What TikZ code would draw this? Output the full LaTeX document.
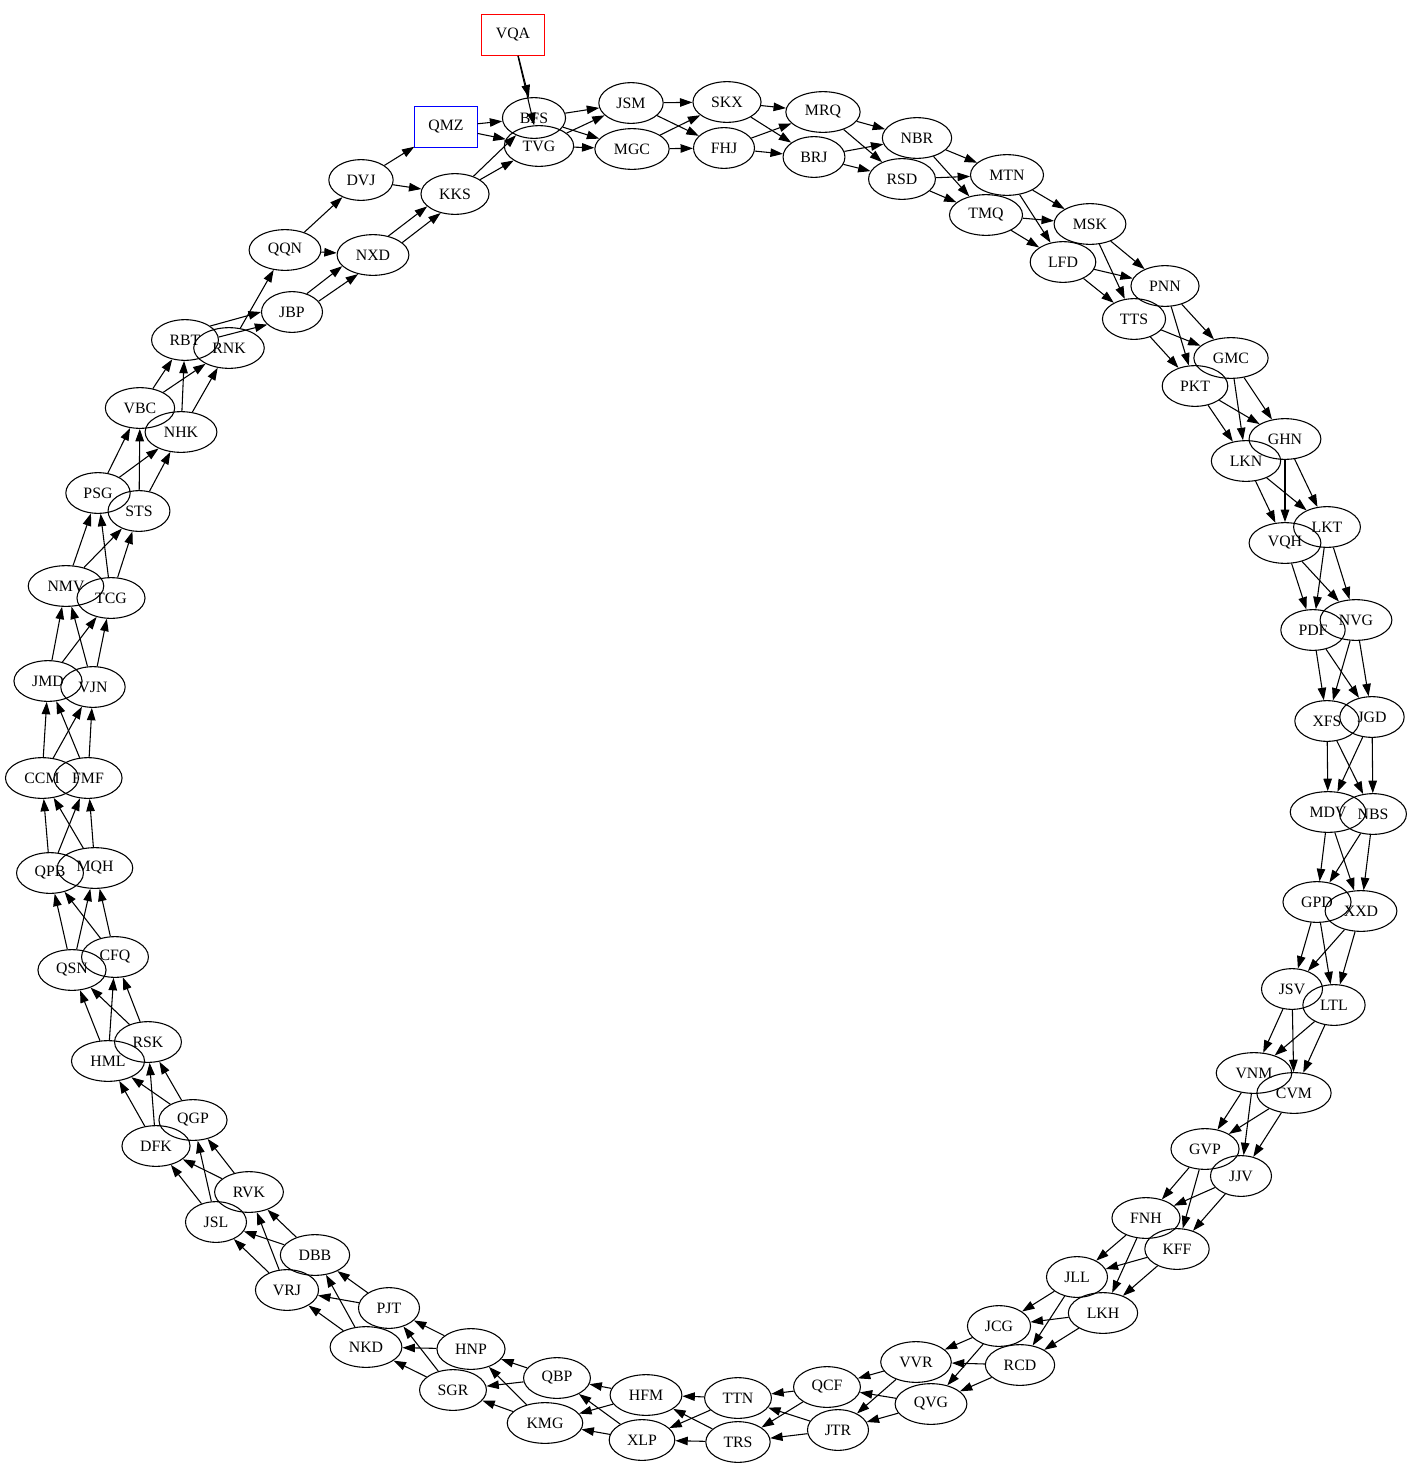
\documentclass[tikz,border=0pt]{standalone}
\usepackage{fontspec}
\setmainfont{Liberation Serif}
\usetikzlibrary{shapes.geometric,arrows.meta}

\begin{document}
\begin{tikzpicture}[x=0.885pt, y=-0.885pt,
    ringnode/.style={ellipse, draw, line width=0.95pt, inner xsep=7.3pt, inner ysep=3pt,
        minimum width=54pt, minimum height=36pt, font=\fontsize{14}{16}\selectfont},
    tagbox/.style={rectangle, draw, line width=0.95pt, minimum width=55pt, minimum height=36pt,
        font=\fontsize{14}{16}\selectfont},
    arr/.style={-{Triangle[length=11pt, width=7.5pt]}, line width=0.95pt}]
        \useasboundingbox (0,0) rectangle (1413,1467);

        % Entry boxes
        \node[tagbox, red] (vqa) at (513,35) {\color{black}VQA};
        \node[tagbox, blue] (qmz) at (446,127) {\color{black}QMZ};

        % Top arc
        \node[ringnode] (bfs) at (534,118) {BFS};
        \node[ringnode] (tvg) at (539,146) {TVG};
        \node[ringnode] (jsm) at (631,103) {JSM};
        \node[ringnode] (mgc) at (632,149) {MGC};
        \node[ringnode] (skx) at (727,102) {SKX};
        \node[ringnode] (fhj) at (724,148) {FHJ};
        \node[ringnode] (mrq) at (823,112) {MRQ};
        \node[ringnode] (brj) at (814,157) {BRJ};
        \node[ringnode] (nbr) at (917,138) {NBR};
        \node[ringnode] (rsd) at (902,179) {RSD};
        \node[ringnode] (mtn) at (1007,175) {MTN};
        \node[ringnode] (tmq) at (986,215) {TMQ};
        \node[ringnode] (msk) at (1090,224) {MSK};
        \node[ringnode] (lfd) at (1063,262) {LFD};
        \node[ringnode] (pnn) at (1165,286) {PNN};
        \node[ringnode] (tts) at (1134,319) {TTS};

        % Right arc
        \node[ringnode] (gmc) at (1231,358) {GMC};
        \node[ringnode] (pkt) at (1195,386) {PKT};
        \node[ringnode] (ghn) at (1285,439) {GHN};
        \node[ringnode] (lkn) at (1246,461) {LKN};
        \node[ringnode] (lkt) at (1327,527) {LKT};
        \node[ringnode] (vqh) at (1285,543) {VQH};
        \node[ringnode] (nvg) at (1356,620) {NVG};
        \node[ringnode] (pdf) at (1313,630) {PDF};
        \node[ringnode] (jgd) at (1372,717) {JGD};
        \node[ringnode] (xfs) at (1327,721) {XFS};
        \node[ringnode] (nbs) at (1373,814) {NBS};
        \node[ringnode] (mdv) at (1328,812) {MDV};
        \node[ringnode] (xxd) at (1361,911) {XXD};
        \node[ringnode] (gpd) at (1317,902) {GPD};
        \node[ringnode] (ltl) at (1334,1005) {LTL};
        \node[ringnode] (jsv) at (1292,989) {JSV};
        \node[ringnode] (cvm) at (1294,1093) {CVM};
        \node[ringnode] (vnm) at (1254,1073) {VNM};
        \node[ringnode] (jjv) at (1241,1176) {JJV};
        \node[ringnode] (gvp) at (1205,1149) {GVP};
        \node[ringnode] (kff) at (1177,1249) {KFF};
        \node[ringnode] (fnh) at (1146,1218) {FNH};

        % Bottom arc
        \node[ringnode] (lkh) at (1103,1313) {LKH};
        \node[ringnode] (jll) at (1077,1277) {JLL};
        \node[ringnode] (rcd) at (1020,1365) {RCD};
        \node[ringnode] (jcg) at (999,1326) {JCG};
        \node[ringnode] (qvg) at (931,1404) {QVG};
        \node[ringnode] (vvr) at (916,1362) {VVR};
        \node[ringnode] (jtr) at (838,1430) {JTR};
        \node[ringnode] (qcf) at (827,1387) {QCF};
        \node[ringnode] (trs) at (738,1442) {TRS};
        \node[ringnode] (ttn) at (738,1398) {TTN};
        \node[ringnode] (xlp) at (642,1440) {XLP};
        \node[ringnode] (hfm) at (646,1395) {HFM};
        \node[ringnode] (kmg) at (545,1423) {KMG};
        \node[ringnode] (qbp) at (557,1378) {QBP};
        \node[ringnode] (sgr) at (453,1390) {SGR};
        \node[ringnode] (hnp) at (471,1349) {HNP};
        \node[ringnode] (nkd) at (366,1347) {NKD};
        \node[ringnode] (pjt) at (389,1308) {PJT};
        \node[ringnode] (vrj) at (287,1290) {VRJ};
        \node[ringnode] (dbb) at (315,1255) {DBB};
        \node[ringnode] (jsl) at (216,1222) {JSL};
        \node[ringnode] (rvk) at (249,1192) {RVK};

        % Left arc
        \node[ringnode] (dfk) at (156,1146) {DFK};
        \node[ringnode] (qgp) at (193,1120) {QGP};
        \node[ringnode] (hml) at (108,1061) {HML};
        \node[ringnode] (rsk) at (148,1042) {RSK};
        \node[ringnode] (qsn) at (72,970) {QSN};
        \node[ringnode] (cfq) at (115,957) {CFQ};
        \node[ringnode] (qpb) at (50,873) {QPB};
        \node[ringnode] (mqh) at (95,868) {MQH};
        \node[ringnode] (ccm) at (42,778) {CCM};
        \node[ringnode] (fmf) at (88,778) {FMF};
        \node[ringnode] (jmd) at (48,681) {JMD};
        \node[ringnode] (vjn) at (93,687) {VJN};
        \node[ringnode] (nmv) at (66,586) {NMV};
        \node[ringnode] (tcg) at (111,598) {TCG};
        \node[ringnode] (psg) at (98,493) {PSG};
        \node[ringnode] (sts) at (139,511) {STS};
        \node[ringnode] (vbc) at (140,408) {VBC};
        \node[ringnode] (nhk) at (181,432) {NHK};
        \node[ringnode] (rbt) at (185,340) {RBT};
        \node[ringnode] (rnk) at (229,348) {RNK};

        % Top left arc
        \node[ringnode] (jbp) at (292,312) {JBP};
        \node[ringnode] (qqn) at (285,250) {QQN};
        \node[ringnode] (nxd) at (373,255) {NXD};
        \node[ringnode] (dvj) at (361,180) {DVJ};
        \node[ringnode] (kks) at (455,194) {KKS};

        % Entry edges
        \draw[arr] (vqa) -- (bfs); \draw[arr] (vqa) -- (tvg);
        \draw[arr] (qmz) -- (bfs); \draw[arr] (qmz) -- (tvg);
        \draw[arr] (kks) -- (bfs); \draw[arr] (kks) -- (tvg);

        % Ring edges, clockwise from the top
        \draw[arr] (bfs) -- (jsm); \draw[arr] (bfs) -- (mgc); \draw[arr] (tvg) -- (jsm); \draw[arr] (tvg) -- (mgc);
        \draw[arr] (jsm) -- (skx); \draw[arr] (jsm) -- (fhj); \draw[arr] (mgc) -- (skx); \draw[arr] (mgc) -- (fhj);
        \draw[arr] (skx) -- (mrq); \draw[arr] (skx) -- (brj); \draw[arr] (fhj) -- (mrq); \draw[arr] (fhj) -- (brj);
        \draw[arr] (mrq) -- (nbr); \draw[arr] (mrq) -- (rsd); \draw[arr] (brj) -- (nbr); \draw[arr] (brj) -- (rsd);
        \draw[arr] (nbr) -- (mtn); \draw[arr] (nbr) -- (tmq); \draw[arr] (rsd) -- (mtn); \draw[arr] (rsd) -- (tmq);
        \draw[arr] (mtn) -- (msk); \draw[arr] (mtn) -- (lfd); \draw[arr] (tmq) -- (msk); \draw[arr] (tmq) -- (lfd);
        \draw[arr] (msk) -- (pnn); \draw[arr] (msk) -- (tts); \draw[arr] (lfd) -- (pnn); \draw[arr] (lfd) -- (tts);
        \draw[arr] (pnn) -- (gmc); \draw[arr] (pnn) -- (pkt); \draw[arr] (tts) -- (gmc); \draw[arr] (tts) -- (pkt);
        \draw[arr] (gmc) -- (ghn); \draw[arr] (gmc) -- (lkn); \draw[arr] (pkt) -- (ghn); \draw[arr] (pkt) -- (lkn);
        \draw[arr] (ghn) -- (lkt); \draw[arr] (ghn) -- (vqh); \draw[arr] (lkn) -- (lkt); \draw[arr] (lkn) -- (vqh);
        \draw[arr] (lkt) -- (nvg); \draw[arr] (lkt) -- (pdf); \draw[arr] (vqh) -- (nvg); \draw[arr] (vqh) -- (pdf);
        \draw[arr] (nvg) -- (jgd); \draw[arr] (nvg) -- (xfs); \draw[arr] (pdf) -- (jgd); \draw[arr] (pdf) -- (xfs);
        \draw[arr] (jgd) -- (nbs); \draw[arr] (jgd) -- (mdv); \draw[arr] (xfs) -- (nbs); \draw[arr] (xfs) -- (mdv);
        \draw[arr] (nbs) -- (xxd); \draw[arr] (nbs) -- (gpd); \draw[arr] (mdv) -- (xxd); \draw[arr] (mdv) -- (gpd);
        \draw[arr] (xxd) -- (ltl); \draw[arr] (xxd) -- (jsv); \draw[arr] (gpd) -- (ltl); \draw[arr] (gpd) -- (jsv);
        \draw[arr] (ltl) -- (cvm); \draw[arr] (ltl) -- (vnm); \draw[arr] (jsv) -- (cvm); \draw[arr] (jsv) -- (vnm);
        \draw[arr] (cvm) -- (jjv); \draw[arr] (cvm) -- (gvp); \draw[arr] (vnm) -- (jjv); \draw[arr] (vnm) -- (gvp);
        \draw[arr] (jjv) -- (kff); \draw[arr] (jjv) -- (fnh); \draw[arr] (gvp) -- (kff); \draw[arr] (gvp) -- (fnh);
        \draw[arr] (kff) -- (lkh); \draw[arr] (kff) -- (jll); \draw[arr] (fnh) -- (lkh); \draw[arr] (fnh) -- (jll);
        \draw[arr] (lkh) -- (rcd); \draw[arr] (lkh) -- (jcg); \draw[arr] (jll) -- (rcd); \draw[arr] (jll) -- (jcg);
        \draw[arr] (rcd) -- (qvg); \draw[arr] (rcd) -- (vvr); \draw[arr] (jcg) -- (qvg); \draw[arr] (jcg) -- (vvr);
        \draw[arr] (qvg) -- (jtr); \draw[arr] (qvg) -- (qcf); \draw[arr] (vvr) -- (jtr); \draw[arr] (vvr) -- (qcf);
        \draw[arr] (jtr) -- (trs); \draw[arr] (jtr) -- (ttn); \draw[arr] (qcf) -- (trs); \draw[arr] (qcf) -- (ttn);
        \draw[arr] (trs) -- (xlp); \draw[arr] (trs) -- (hfm); \draw[arr] (ttn) -- (xlp); \draw[arr] (ttn) -- (hfm);
        \draw[arr] (xlp) -- (kmg); \draw[arr] (xlp) -- (qbp); \draw[arr] (hfm) -- (kmg); \draw[arr] (hfm) -- (qbp);
        \draw[arr] (kmg) -- (sgr); \draw[arr] (kmg) -- (hnp); \draw[arr] (qbp) -- (sgr); \draw[arr] (qbp) -- (hnp);
        \draw[arr] (sgr) -- (nkd); \draw[arr] (sgr) -- (pjt); \draw[arr] (hnp) -- (nkd); \draw[arr] (hnp) -- (pjt);
        \draw[arr] (nkd) -- (vrj); \draw[arr] (nkd) -- (dbb); \draw[arr] (pjt) -- (vrj); \draw[arr] (pjt) -- (dbb);
        \draw[arr] (vrj) -- (jsl); \draw[arr] (vrj) -- (rvk); \draw[arr] (dbb) -- (jsl); \draw[arr] (dbb) -- (rvk);
        \draw[arr] (jsl) -- (dfk); \draw[arr] (jsl) -- (qgp); \draw[arr] (rvk) -- (dfk); \draw[arr] (rvk) -- (qgp);
        \draw[arr] (dfk) -- (hml); \draw[arr] (dfk) -- (rsk); \draw[arr] (qgp) -- (hml); \draw[arr] (qgp) -- (rsk);
        \draw[arr] (hml) -- (qsn); \draw[arr] (hml) -- (cfq); \draw[arr] (rsk) -- (qsn); \draw[arr] (rsk) -- (cfq);
        \draw[arr] (qsn) -- (qpb); \draw[arr] (qsn) -- (mqh); \draw[arr] (cfq) -- (qpb); \draw[arr] (cfq) -- (mqh);
        \draw[arr] (qpb) -- (ccm); \draw[arr] (qpb) -- (fmf); \draw[arr] (mqh) -- (ccm); \draw[arr] (mqh) -- (fmf);
        \draw[arr] (ccm) -- (jmd); \draw[arr] (ccm) -- (vjn); \draw[arr] (fmf) -- (jmd); \draw[arr] (fmf) -- (vjn);
        \draw[arr] (jmd) -- (nmv); \draw[arr] (jmd) -- (tcg); \draw[arr] (vjn) -- (nmv); \draw[arr] (vjn) -- (tcg);
        \draw[arr] (nmv) -- (psg); \draw[arr] (nmv) -- (sts); \draw[arr] (tcg) -- (psg); \draw[arr] (tcg) -- (sts);
        \draw[arr] (psg) -- (vbc); \draw[arr] (psg) -- (nhk); \draw[arr] (sts) -- (vbc); \draw[arr] (sts) -- (nhk);
        \draw[arr] (vbc) -- (rbt); \draw[arr] (vbc) -- (rnk); \draw[arr] (nhk) -- (rbt); \draw[arr] (nhk) -- (rnk);

        % Top left: single and doubled edges
        \draw[arr] (rbt.29) -- (jbp.180); \draw[arr] (rbt.5) -- (jbp.207);
        \draw[arr] (rnk) -- (qqn);
        \draw[arr] (qqn) -- (dvj); \draw[arr] (qqn) -- (nxd);
        \draw[arr] (jbp.51) -- (nxd.200); \draw[arr] (jbp.22) -- (nxd.232);
        \draw[arr] (nxd.51) -- (kks.204); \draw[arr] (nxd.23) -- (kks.233);
        \draw[arr] (dvj) -- (qmz); \draw[arr] (dvj) -- (kks);

    \end{tikzpicture}
\end{document}
